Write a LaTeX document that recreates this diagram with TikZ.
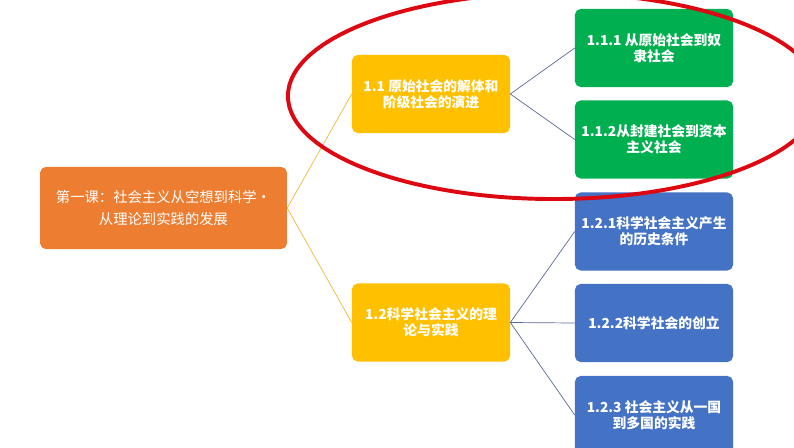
\documentclass[tikz,border=0pt]{standalone}
\usepackage{fontspec}
\setmainfont{Noto Sans CJK SC}
\begin{document}
\begin{tikzpicture}[x=0.025cm, y=-0.025cm,
    boxnode/.style={rounded corners=4pt, text=white, align=center, inner sep=2pt,
      font=\bfseries\fontsize{9.8}{11.2}\selectfont,
      minimum width=3.95cm, minimum height=1.95cm},
    rootnode/.style={boxnode, fill=rootorange, minimum width=6.17cm, minimum height=2.05cm,
      font=\fontsize{10.2}{15.6}\selectfont},
    midnode/.style={boxnode, fill=midyellow},
    greennode/.style={boxnode, fill=leafgreen},
    bluenode/.style={boxnode, fill=leafblue},
    rootline/.style={draw=lineyellow, line width=0.5pt},
    leafline/.style={draw=lineblue, line width=0.5pt}]
  \definecolor{rootorange}{HTML}{ED7D31}
  \definecolor{midyellow}{HTML}{FFC000}
  \definecolor{leafgreen}{HTML}{00B050}
  \definecolor{leafblue}{HTML}{4472C4}
  \definecolor{lineyellow}{HTML}{E8B93C}
  \definecolor{lineblue}{HTML}{5A6A96}
  \definecolor{markred}{RGB}{222,8,18}
  \useasboundingbox (0,0) rectangle (794,447);

  \node[rootnode] (root) at (163.5,208) {第一课：社会主义从空想到科学・\\从理论到实践的发展};
  \node[midnode] (evol) at (431,94) {1.1 原始社会的解体和\\阶级社会的演进};
  \node[midnode] (sci) at (431,322.5) {1.2科学社会主义的理\\论与实践};

  \node[greennode] (slave) at (654,48) {1.1.1 从原始社会到奴\\隶社会};
  \node[greennode] (feudal) at (654,139.5) {1.1.2从封建社会到资本\\主义社会};
  \node[bluenode] (cond) at (654,231.5) {1.2.1科学社会主义产生\\的历史条件};
  \node[bluenode] (found) at (654,323) {1.2.2科学社会的创立};
  \node[bluenode] (pract) at (654,415) {1.2.3 社会主义从一国\\到多国的实践};

  \draw[rootline] (evol.west) -- (root.east) -- (sci.west);
  \draw[leafline] (slave.west) -- (evol.east) -- (feudal.west);
  \draw[leafline] (cond.west) -- (sci.east) -- (pract.west);
  \draw[leafline] (sci.east) -- (found.west);

  %\draw[red] (288,96) -- (820,96);
  \draw[markred, line width=2.8pt] (554,96) ellipse [x radius=6.65cm, y radius=2.575cm];
\end{tikzpicture}
\end{document}
